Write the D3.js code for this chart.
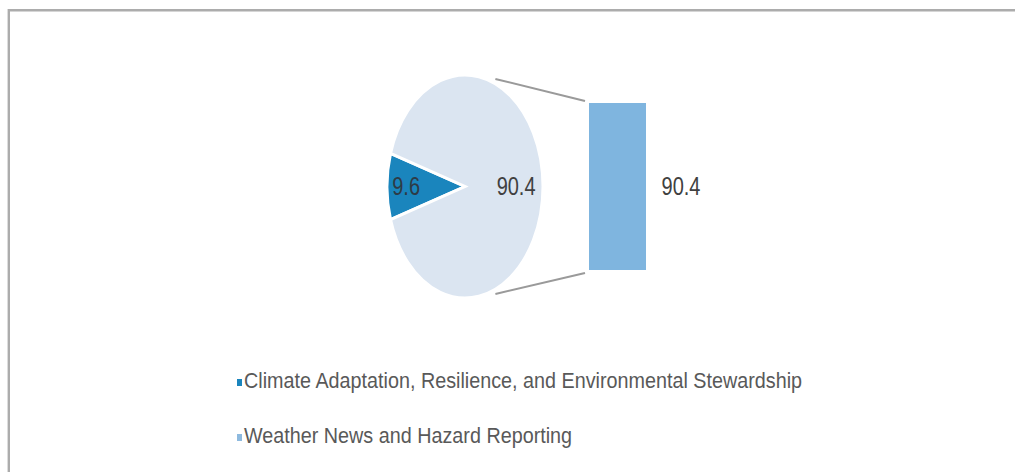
<!DOCTYPE html>
<html>
<head>
<meta charset="utf-8">
<script src="https://cdn.jsdelivr.net/npm/d3@7"></script>
<style>
  html, body { margin: 0; padding: 0; background: #ffffff; }
  svg { display: block; }
  text { font-family: "Liberation Sans", Arial, sans-serif; }
</style>
</head>
<body>
<svg id="chart" width="1015" height="472"></svg>
<script>
// Share of coverage by topic (percent)
const categories = [
  "Climate Adaptation, Resilience, and Environmental Stewardship",
  "Weather News and Hazard Reporting"
];
const pieValues = [9.6, 90.4];       // primary pie: first slice, rest grouped
const barValues = [90.4];            // secondary stack: the grouped slice broken out
const pieLabels = ["9.6", "90.4"];
const barLabels = ["90.4"];

const pieColors = ["#1a85bd", "#dbe5f1"];
const barColors = ["#7fb5df"];
const legendColors = ["#1a85bd", "#8ebadf"];

const svg = d3.select("#chart");
const W = 1015, H = 472;

// condensed lettering: text is drawn at its anchor and narrowed horizontally
const narrow = (x, yy, s) => `translate(${x},${yy}) scale(${s},1)`;

// frame (top and left edges only are in view)
svg.append("path")
  .attr("d", `M8.8,${H} L8.8,10.3 L${W},10.3`)
  .attr("fill", "none")
  .attr("stroke", "#acacac")
  .attr("stroke-width", 2.4);

// ---------- primary pie, drawn on a unit circle and squashed into an ellipse ----------
const cx = 465, cy = 186.5, rx = 78, ry = 111.5, R = 100;
const sliceAngle = pieValues[0] / d3.sum(pieValues) * 2 * Math.PI;
const start = 1.5 * Math.PI - sliceAngle / 2;

const pie = d3.pie().sort(null).value(d => d)
  .startAngle(start).endAngle(start + 2 * Math.PI);
const arcs = pie(pieValues);
const arc = d3.arc().innerRadius(0).outerRadius(R);
// label distance from the centre, as a share of the radius, per slice
const labelRadius = [0.755, 0.655];

const pieG = svg.append("g")
  .attr("transform", `translate(${cx},${cy}) scale(${rx / R},${ry / R})`);

pieG.selectAll("path.slice")
  .data(arcs)
  .join("path")
  .attr("class", "slice")
  .attr("d", arc)
  .attr("fill", (d, i) => pieColors[i])
  .attr("stroke", "#ffffff")
  .attr("stroke-width", 3)
  .attr("stroke-linejoin", "miter")
  .attr("vector-effect", "non-scaling-stroke");

svg.append("g").selectAll("text")
  .data(arcs)
  .join("text")
  .attr("transform", (d, i) => {
    const r = R * labelRadius[i];
    const c = d3.arc().innerRadius(r).outerRadius(r).centroid(d);
    return narrow(cx + c[0] * rx / R, cy + c[1] * ry / R, 0.8);
  })
  .attr("dy", "0.35em")
  .attr("text-anchor", "middle")
  .attr("font-size", 25)
  .attr("fill", (d, i) => i === 0 ? "#2e3b46" : "#404040")
  .text((d, i) => pieLabels[i]);

// ---------- secondary stacked bar ----------
const barX = 589, barW = 57;
const y = d3.scaleLinear().domain([0, d3.sum(barValues)]).range([270, 103]);
const stack = barValues.map((v, i) => ({
  v, i, y0: d3.sum(barValues.slice(0, i)), y1: d3.sum(barValues.slice(0, i + 1))
}));

svg.append("g").selectAll("rect")
  .data(stack)
  .join("rect")
  .attr("x", barX)
  .attr("y", d => y(d.y1))
  .attr("width", barW)
  .attr("height", d => y(d.y0) - y(d.y1))
  .attr("fill", d => barColors[d.i]);

svg.append("g").selectAll("text")
  .data(stack)
  .join("text")
  .attr("transform", d => narrow(barX + barW + 35, (y(d.y0) + y(d.y1)) / 2, 0.8))
  .attr("dy", "0.35em")
  .attr("text-anchor", "middle")
  .attr("font-size", 25)
  .attr("fill", "#404040")
  .text((d, i) => barLabels[i]);

// ---------- connector lines from pie to bar ----------
const theta = 22 * Math.PI / 180, k = 1.04;
const sx = cx + rx * k * Math.sin(theta);
const connectors = [
  [[sx, cy - ry * k * Math.cos(theta)], [barX - 4, y(d3.sum(barValues)) - 2]],
  [[sx, cy + ry * k * Math.cos(theta)], [barX - 4, y(0) + 3]]
];
svg.append("g").selectAll("line")
  .data(connectors)
  .join("line")
  .attr("x1", d => d[0][0]).attr("y1", d => d[0][1])
  .attr("x2", d => d[1][0]).attr("y2", d => d[1][1])
  .attr("stroke", "#9a9a9a")
  .attr("stroke-width", 2);

// ---------- legend ----------
const legend = svg.append("g").attr("transform", "translate(237,388)");
const rows = legend.selectAll("g")
  .data(categories)
  .join("g")
  .attr("transform", (d, i) => `translate(0,${i * 55})`);
rows.append("rect")
  .attr("x", 0).attr("y", -9)
  .attr("width", 5).attr("height", 7)
  .attr("fill", (d, i) => legendColors[i]);
rows.append("text")
  .attr("transform", narrow(7, 0, 0.92))
  .attr("font-size", 21.5)
  .attr("fill", "#595959")
  .text(d => d);
</script>
</body>
</html>
